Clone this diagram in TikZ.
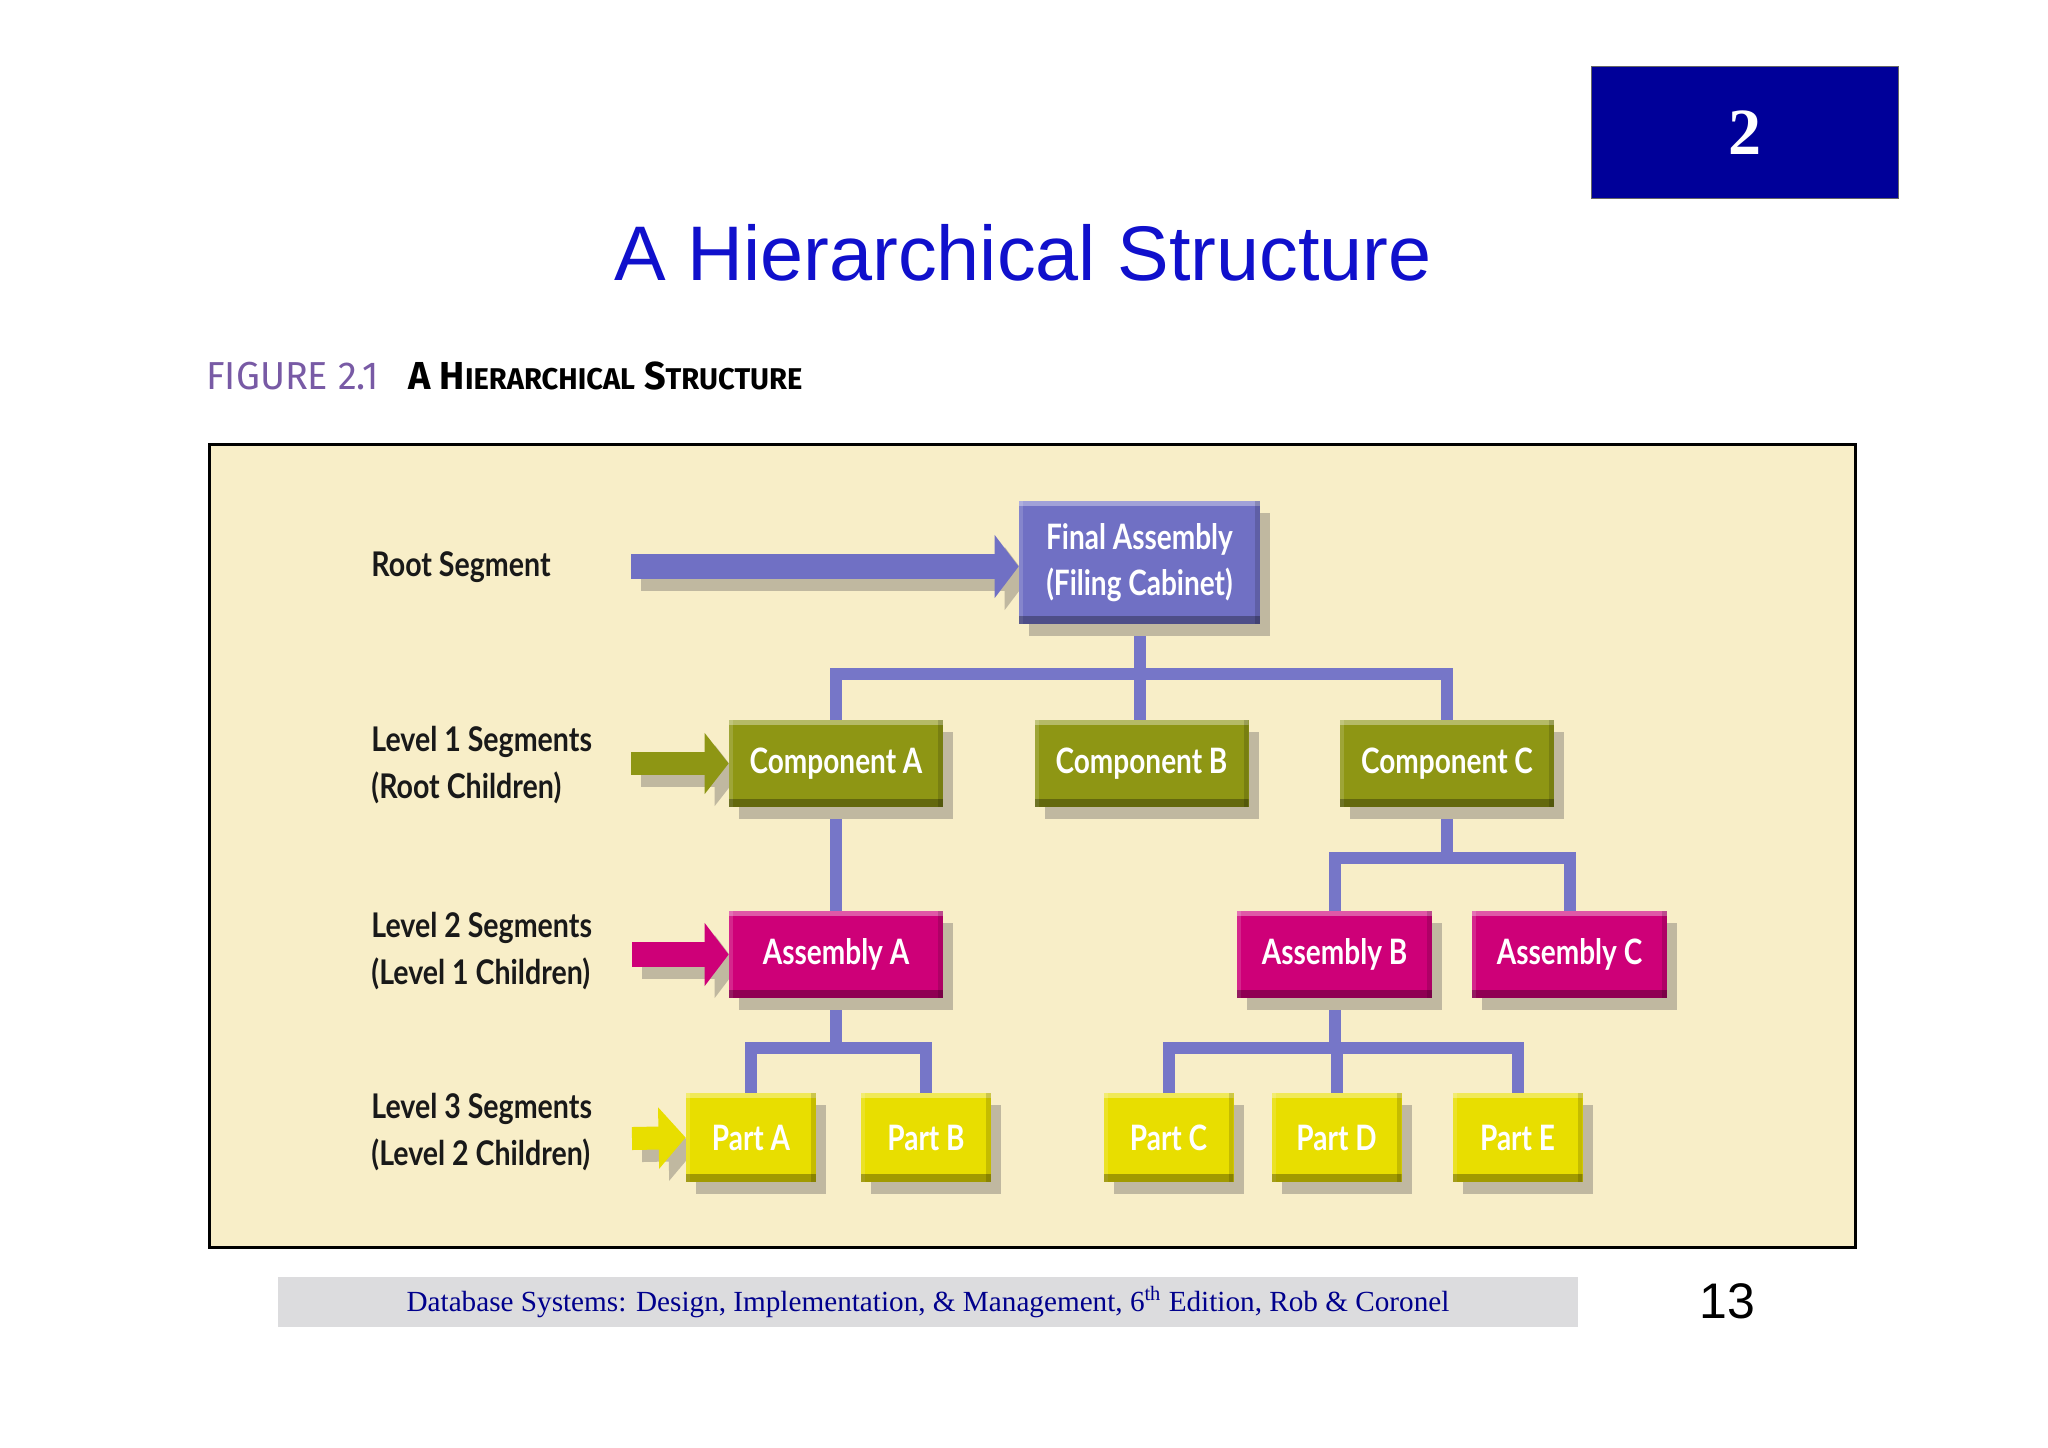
\documentclass[tikz,border=0pt]{standalone}
\usepackage{fontspec}
\usepackage{graphicx}
\setmainfont{Liberation Serif}
\newfontfamily\arialf{Liberation Sans}
\newfontfamily\boxf[FakeStretch=0.8]{Lato}
\newfontfamily\labf[FakeStretch=0.84]{Lato}
\newfontfamily\headf[FakeStretch=0.97]{Fira Sans}
\usetikzlibrary{shadows,arrows.meta}
\pgfdeclarelayer{back}
\pgfdeclarelayer{wires}
\pgfsetlayers{back,wires,main}
\definecolor{beige}{RGB}{248,238,200}
\definecolor{faC}{RGB}{112,112,196}
\definecolor{wireC}{RGB}{118,118,200}
\definecolor{oliveC}{RGB}{142,150,20}
\definecolor{magC}{RGB}{206,0,120}
\definecolor{yelC}{RGB}{232,222,0}
\definecolor{navyC}{RGB}{0,0,153}
\definecolor{titleC}{RGB}{16,16,204}
\definecolor{footgrey}{RGB}{220,220,222}
\definecolor{footC}{RGB}{0,0,140}
\definecolor{figC}{RGB}{120,90,165}
\definecolor{shadowC}{RGB}{192,184,160}
\tikzset{
  seg/.style={rectangle, inner sep=0pt, text=white, align=center,
    font=\boxf\bfseries\fontsize{17.5}{23}\selectfont,
    drop shadow={shadow xshift=5pt, shadow yshift=-6pt, fill=shadowC, opacity=1},
    path picture={
      \fill[white,opacity=.35] (path picture bounding box.north west) rectangle ([yshift=-2.5pt]path picture bounding box.north east);
      \fill[white,opacity=.15] (path picture bounding box.north west) rectangle ([xshift=2pt]path picture bounding box.south west);
      \fill[black,opacity=.15] ([xshift=-2.5pt]path picture bounding box.north east) rectangle (path picture bounding box.south east);
      \fill[black,opacity=.3] ([yshift=4pt]path picture bounding box.south west) rectangle (path picture bounding box.south east);
    }},
  rootbox/.style={seg, fill=faC, minimum width=120.5pt, minimum height=61.5pt},
  compbox/.style={seg, fill=oliveC, minimum width=107pt, minimum height=43.5pt},
  asmbox/.style={seg, fill=magC, minimum width=97.5pt, minimum height=43.5pt},
  partbox/.style={seg, fill=yelC, minimum width=65pt, minimum height=44.5pt},
  wire/.style={draw=wireC, line width=6pt, line join=miter},
  lab/.style={anchor=west, align=left, inner sep=0pt, text=black!90,
    font=\labf\bfseries\fontsize{17}{23.5}\selectfont}
}
\begin{document}
\begin{tikzpicture}[x=0.5pt,y=-0.5pt]
\useasboundingbox (0,0) rectangle (2048,1447);
\begin{pgfonlayer}{back}
\fill[white] (0,0) rectangle (2048,1447);
\draw[fill=beige, line width=1.5pt] (209,444) rectangle (1855,1247);
\end{pgfonlayer}

% chapter box
\node[rectangle, fill=navyC, draw=black!60, line width=0.5pt, minimum width=153.5pt, minimum height=66pt, inner sep=0pt,
  text=white, font=\bfseries\fontsize{33}{36}\selectfont] (chap) at (1745,132.5) {2};

% title
\node[anchor=base, inner sep=0pt, text=titleC, font=\arialf\fontsize{38.7}{46}\selectfont] (title) at (1023,280) {A Hierarchical Structure};

% figure heading
\node[anchor=base west, inner sep=0pt, font=\headf] (fighead) at (206,389)
 {{\color{figC}\fontsize{19.5}{22}\selectfont FIGURE 2.1}\hspace{15pt}{\bfseries\fontsize{19.5}{22}\selectfont A H{\fontsize{15}{22}\selectfont IERARCHICAL} S{\fontsize{15}{22}\selectfont TRUCTURE}}};

% boxes
\node[rootbox] (fa) at (1139.5,562.5) {Final Assembly\\(Filing Cabinet)};
\node[compbox] (cA) at (836,763.5) {Component A};
\node[compbox] (cB) at (1141.5,763.5) {Component B};
\node[compbox] (cC) at (1447,763.5) {Component C};
\node[asmbox, minimum width=107pt] (aA) at (836,954.5) {Assembly A};
\node[asmbox] (aB) at (1334.5,954.5) {Assembly B};
\node[asmbox] (aC) at (1569.5,954.5) {Assembly C};
\node[partbox] (pA) at (751,1137.5) {Part A};
\node[partbox] (pB) at (926,1137.5) {Part B};
\node[partbox] (pC) at (1168.5,1137.5) {Part C};
\node[partbox] (pD) at (1336.5,1137.5) {Part D};
\node[partbox] (pE) at (1517.5,1137.5) {Part E};

% bus coordinates
\coordinate (bus1) at (0,673.5);
\coordinate (bus2) at (0,858);
\coordinate (bus3) at (0,1047.5);

\begin{pgfonlayer}{wires}
\draw[wire] (fa.south) -- (fa.south |- cB.north);
\draw[wire] (cA.north) |- (fa.south |- bus1) -| (cC.north);
\draw[wire] (cA.south) -- (aA.north);
\draw[wire] (cC.south) -- (cC.south |- bus2);
\draw[wire] (aB.north) |- (cC.south |- bus2) -| (aC.north);
\draw[wire] (aA.south) -- (aA.south |- bus3);
\draw[wire] (pA.north) |- (aA.south |- bus3) -| (pB.north);
\draw[wire] (aB.south) -- (aB.south |- bus3);
\draw[wire] (pC.north) |- (aB.south |- bus3) -| (pE.north);
\draw[wire] (pD.north) -- (pD.north |- bus3);
\end{pgfonlayer}

% labels
\node[lab] (l0) at (371,567) {Root Segment};
\node[lab] (l1) at (371,765.5) {Level 1 Segments\\(Root Children)};
\node[lab] (l2) at (371,951.5) {Level 2 Segments\\(Level 1 Children)};
\node[lab] (l3) at (371,1132) {Level 3 Segments\\(Level 2 Children)};

% block arrows
\coordinate (rs) at (631,566.5);
\coordinate (cs) at (631,763.5);
\coordinate (as) at (632,954.5);
\coordinate (ps) at (632,1138.5);
\begin{pgfonlayer}{wires}
\draw[shadowC, line width=12.5pt, -{Triangle[length=12pt,width=31pt]}] ([shift={(5pt,-6pt)}]rs) -- ([shift={(5pt,-6pt)}]rs -| fa.west);
\draw[shadowC, line width=11.5pt, -{Triangle[length=12pt,width=30pt]}] ([shift={(5pt,-6pt)}]cs) -- ([shift={(5pt,-6pt)}]cA.west);
\draw[shadowC, line width=12.5pt, -{Triangle[length=12pt,width=31pt]}] ([shift={(5pt,-6pt)}]as) -- ([shift={(5pt,-6pt)}]aA.west);
\draw[shadowC, line width=11.5pt, -{Triangle[length=13.5pt,width=30pt]}] ([shift={(5pt,-6pt)}]ps) -- ([shift={(5pt,-6pt)}]pA.west);
\end{pgfonlayer}
\draw[faC, line width=12.5pt, -{Triangle[length=12pt,width=31pt]}] (rs) -- (rs -| fa.west);
\draw[oliveC, line width=11.5pt, -{Triangle[length=12pt,width=30pt]}] (cs) -- (cA.west);
\draw[magC, line width=12.5pt, -{Triangle[length=12pt,width=31pt]}] (as) -- (aA.west);
\draw[yelC, line width=11.5pt, -{Triangle[length=13.5pt,width=30pt]}] (ps) -- (pA.west);

% footer
\node[rectangle, fill=footgrey, minimum width=650pt, minimum height=25pt, inner sep=0pt,
  text=footC, font=\fontsize{14.6}{16}\selectfont] (foot) at (928,1302)
  {Database Systems: Design, Implementation, \& Management, 6\textsuperscript{th} Edition, Rob \& Coronel};
\node[anchor=base, inner sep=0pt, font=\arialf\fontsize{25}{28}\selectfont] (pg) at (1727,1318) {13};
\end{tikzpicture}
\end{document}
